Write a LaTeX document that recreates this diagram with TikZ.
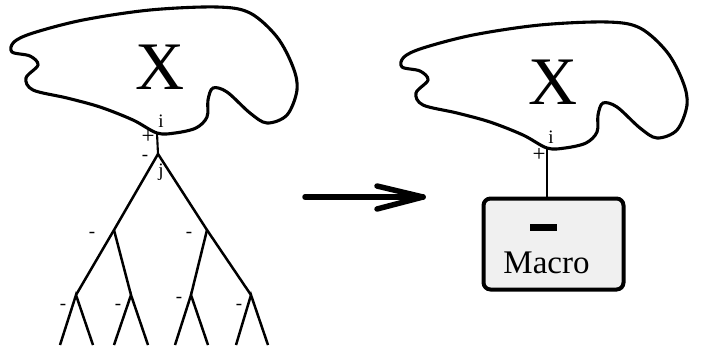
\documentclass[tikz,border=0pt]{standalone}
\usepackage{fontspec}
\setmainfont{Liberation Serif}
\begin{document}
\begin{tikzpicture}[x=1pt,y=-1pt,
  blob/.style={line width=3.1pt},
  branch/.style={line width=2.5pt},
  stem/.style={line width=2.1pt},
  big/.style={font=\fontsize{68}{68}\selectfont, inner sep=0pt},
  lbl/.style={font=\fontsize{19}{19}\selectfont, inner sep=0pt},
  sign/.style={font=\fontsize{23}{23}\selectfont, inner sep=0pt, text height=1.2ex, text depth=0pt},
  minus/.style={font=\fontsize{19}{19}\selectfont, inner sep=0pt, text height=0.9ex, text depth=0pt},
  macrobox/.style={draw, line width=4pt, rounded corners=7pt, fill=black!6, minimum width=140pt, minimum height=91pt, inner sep=0pt}
]
\useasboundingbox (0,0) rectangle (703,354);
\newcommand\myblob{plot[smooth cycle, tension=0.55] coordinates {(157,133) (133,120) (100,107) (67,98) (33,90) (26,78) (38,65) (30,56) (12,52) (14,42) (33,33) (83,20) (150,10) (217,7) (250,13) (277,37) (293,67) (297,90) (287,115) (267,123) (250,113) (227,92) (213,88) (208,100) (207,117) (196,128) (175,133)}}
% left blob
\draw[blob] \myblob;
\node[big] (xl) at (160,67) {X};
% right blob
\begin{scope}[shift={(390,15)}]
\draw[blob] \myblob;
\node[big] (xr) at (163,67) {X};
\end{scope}
% left tree
\coordinate (il) at (157,133);
\coordinate (r) at (158,154);
\coordinate (a) at (114,230);
\coordinate (b) at (207,230);
\coordinate (aa) at (76,295);
\coordinate (ab) at (131,295);
\coordinate (ba) at (191,295);
\coordinate (bb) at (251,295);
\foreach \n/\x in {l1/60,l2/93,l3/114,l4/148,l5/175,l6/208,l7/236,l8/268}
  \coordinate (\n) at (\x,345);
\draw[stem] (il) -- (r);
\draw[branch] (r) -- (a) -- (aa);
\draw[branch] (r) -- (b) -- (bb);
\draw[branch] (a) -- (ab);
\draw[branch] (b) -- (ba);
\draw[branch] (l1) -- (aa) -- (l2);
\draw[branch] (l3) -- (ab) -- (l4);
\draw[branch] (l5) -- (ba) -- (l6);
\draw[branch] (l7) -- (bb) -- (l8);
\node[lbl] (ti) at (161,121) {i};
\node[sign] (tp) at (148,141) {+};
\node[minus] (tm) at (145,158) {-};
\node[lbl] (tj) at (161,172) {j};
\node[minus] (m1) at (92,235) {-};
\node[minus] (m2) at (189,235) {-};
\node[minus] (m3) at (63,307) {-};
\node[minus] (m4) at (118,307) {-};
\node[minus] (m5) at (179,300) {-};
\node[minus] (m6) at (239,307) {-};
% arrow
\coordinate (as) at (305,197);
\coordinate (at) at (423,197);
\draw[line width=5.5pt, line cap=round] (as) -- (at);
\draw[line width=5.5pt, line cap=round, line join=round] (377,186) -- (at) -- (377,209);
% right side
\coordinate (ir) at (547,148);
\node[macrobox] (mb) at (553.5,244) {};
\draw[stem] (ir) -- (mb.north -| ir);
\node[lbl] (ri) at (551,137) {i};
\node[sign] (rp) at (539,159) {+};
\node[inner sep=0pt] (bar) at (543.5,227.5) {\rule{27pt}{7pt}};
\node[font=\fontsize{33}{33}\selectfont, inner sep=0pt, anchor=base] (mac) at (546.5,273) {Macro};
\end{tikzpicture}
\end{document}
